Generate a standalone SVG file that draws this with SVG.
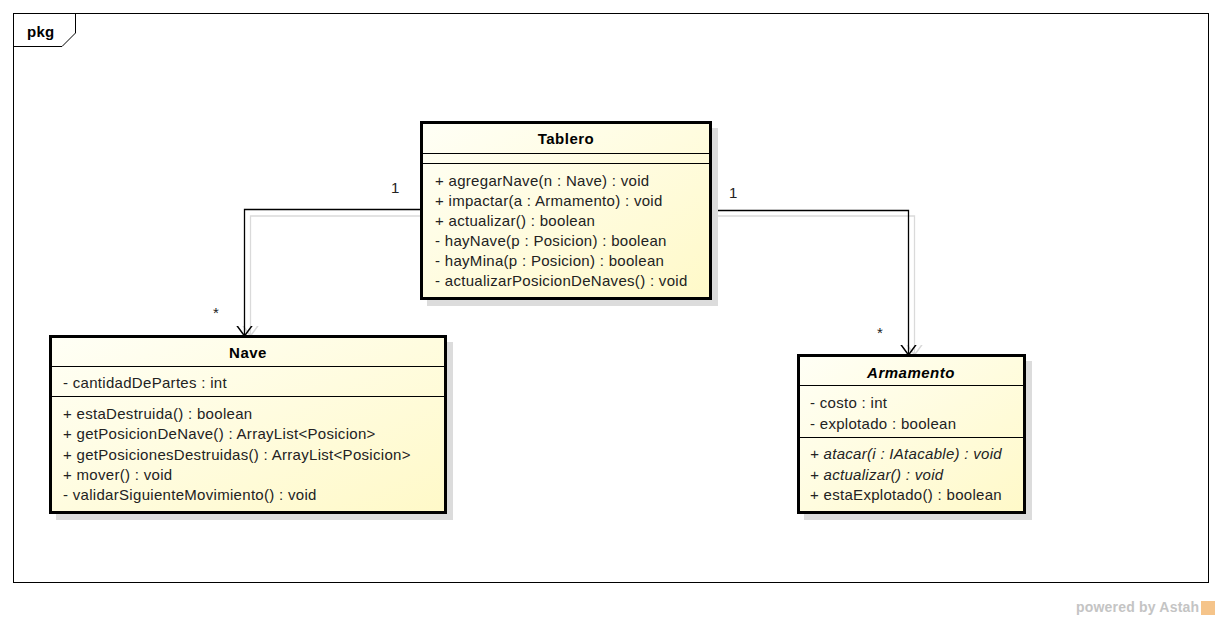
<svg xmlns="http://www.w3.org/2000/svg" width="1221" height="621" viewBox="0 0 1221 621">
  <defs>
    <linearGradient id="classFill" x1="0" y1="0" x2="1" y2="1">
      <stop offset="0" stop-color="#fffff6"/>
      <stop offset="1" stop-color="#fff9c8"/>
    </linearGradient>
    <marker id="openArrow" markerWidth="20" markerHeight="20" refX="10" refY="10" orient="auto" markerUnits="userSpaceOnUse">
      <path d="M-1,2 L10,10 L-1,18" fill="none" stroke="#000" stroke-width="1.5"/>
    </marker>
    <marker id="openArrowShadow" markerWidth="20" markerHeight="20" refX="10" refY="10" orient="auto" markerUnits="userSpaceOnUse">
      <path d="M-1,2 L10,10 L-1,18" fill="none" stroke="#d8d8d8" stroke-width="1.5"/>
    </marker>
  </defs>
  <style>
    text { font-family: "Liberation Sans", Arial, sans-serif; font-size: 15px; letter-spacing: 0.3px; fill: #222; }
    .name { font-weight: bold; text-anchor: middle; fill: #000; letter-spacing: 0.5px; }
    .abstract { font-style: italic; }
    .box { fill: url(#classFill); stroke: #000; stroke-width: 3; }
    .shadow { fill: #dcdcdc; }
    .sep { stroke: #000; stroke-width: 1.2; }
    .edge { fill: none; stroke: #000; stroke-width: 1.3; }
    .edgeShadow { fill: none; stroke: #dadada; stroke-width: 1.3; }
    .mult { font-size: 15px; fill: #222; }
  </style>

  <rect width="1221" height="621" fill="#fff"/>

  <!-- package frame -->
  <g id="frame">
    <rect x="13.5" y="13.5" width="1195" height="569" fill="none" stroke="#000" stroke-width="1"/>
    <path d="M13.5,46.5 H62 L75.5,33 V13.5" fill="none" stroke="#000" stroke-width="1"/>
    <text x="27" y="37" style="font-weight:bold;font-size:15px;fill:#000">pkg</text>
  </g>

  <!-- associations -->
  <g id="connectors">
    <path class="edgeShadow" d="M711,216 H250.5 V336" marker-end="url(#openArrowShadow)"/>
    <path class="edgeShadow" d="M711,216 H914.5 V355" marker-end="url(#openArrowShadow)"/>
    <path class="edge" d="M421,209.5 H244.5 V336" marker-end="url(#openArrow)"/>
    <path class="edge" d="M711,210.5 H908.5 V355" marker-end="url(#openArrow)"/>
    <text class="mult" x="391" y="193">1</text>
    <text class="mult" x="213" y="318">*</text>
    <text class="mult" x="729" y="198">1</text>
    <text class="mult" x="877" y="338">*</text>
  </g>

  <!-- Tablero -->
  <g id="tablero">
    <rect class="shadow" x="427" y="128" width="291" height="178"/>
    <rect class="box" x="421.5" y="122.5" width="289" height="176"/>
    <line class="sep" x1="423" y1="153.5" x2="709" y2="153.5"/>
    <line class="sep" x1="423" y1="163.5" x2="709" y2="163.5"/>
    <text class="name" x="566" y="144">Tablero</text>
    <text x="435" y="186">+ agregarNave(n : Nave) : void</text>
    <text x="435" y="206">+ impactar(a : Armamento) : void</text>
    <text x="435" y="226">+ actualizar() : boolean</text>
    <text x="435" y="246">- hayNave(p : Posicion) : boolean</text>
    <text x="435" y="266">- hayMina(p : Posicion) : boolean</text>
    <text x="435" y="286">- actualizarPosicionDeNaves() : void</text>
  </g>

  <!-- Nave -->
  <g id="nave">
    <rect class="shadow" x="56" y="342" width="397" height="178"/>
    <rect class="box" x="50.5" y="336.5" width="395" height="176"/>
    <line class="sep" x1="52" y1="366.5" x2="444" y2="366.5"/>
    <line class="sep" x1="52" y1="396.5" x2="444" y2="396.5"/>
    <text class="name" x="248" y="358">Nave</text>
    <text x="63" y="388">- cantidadDePartes : int</text>
    <text x="63" y="419">+ estaDestruida() : boolean</text>
    <text x="63" y="439">+ getPosicionDeNave() : ArrayList&lt;Posicion&gt;</text>
    <text x="63" y="460">+ getPosicionesDestruidas() : ArrayList&lt;Posicion&gt;</text>
    <text x="63" y="480">+ mover() : void</text>
    <text x="63" y="500">- validarSiguienteMovimiento() : void</text>
  </g>

  <!-- Armamento -->
  <g id="armamento">
    <rect class="shadow" x="804" y="361" width="228" height="159"/>
    <rect class="box" x="798.5" y="355.5" width="226" height="157"/>
    <line class="sep" x1="800" y1="385.5" x2="1023" y2="385.5"/>
    <line class="sep" x1="800" y1="437.5" x2="1023" y2="437.5"/>
    <text class="name abstract" x="911" y="378">Armamento</text>
    <text x="810" y="408">- costo : int</text>
    <text x="810" y="429">- explotado : boolean</text>
    <text x="810" y="459" class="abstract">+ atacar(i : IAtacable) : void</text>
    <text x="810" y="480" class="abstract">+ actualizar() : void</text>
    <text x="810" y="500">+ estaExplotado() : boolean</text>
  </g>

  <!-- footer mark -->
  <g id="watermark">
    <text x="1076" y="612" style="font-weight:bold;font-size:14px;letter-spacing:0.2px;fill:#c4c4c4">powered by Astah</text>
    <rect x="1201" y="601" width="14" height="14" fill="#f5c48a"/>
  </g>
</svg>
